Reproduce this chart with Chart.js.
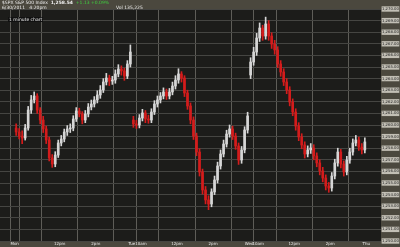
<!DOCTYPE html>
<html>
<head>
<meta charset="utf-8">
<script src="https://cdn.jsdelivr.net/npm/chart.js@4"></script>
<style>
  html, body { margin: 0; padding: 0; background: #4b483e; }
  #wrap { position: relative; width: 400px; height: 247px; }
  .hd { position: absolute; font: 4.5px "DejaVu Sans", sans-serif; color: #f0f0f0; white-space: nowrap; }
  #tag { position: absolute; left: 8px; top: 17px; font: 4.5px "DejaVu Sans", sans-serif; color: #f0f0f0; background: #111; padding: 0 1px; }
</style>
</head>
<body>
<div id="wrap">
  <canvas id="myChart" width="400" height="247"></canvas>
  <div class="hd" style="left:2px;top:0px">$SPX S&amp;P 500 Index &nbsp;<b>1,258.54</b> &nbsp;<span style="color:#3fd23f">+1.13 +0.09%</span></div>
  <div class="hd" style="left:2px;top:4.5px">6/30/2011 &nbsp; 4:20pm</div>
  <div class="hd" style="left:116px;top:4.5px">Vol 135,225</div>
  <div id="tag">1 minute chart</div>
</div>
<script>
// 10-minute candles, 39 per session (Mon, Tue, Wed)
const opens = [
  1259.74,1259.40,1259.05,1258.88,1259.74,1261.29,1262.16,1262.50,1261.29,1260.43,1259.66,1258.71,1257.16,1256.64,1257.41,1258.45,1258.79,1259.40,1259.66,1259.74,1260.52,1261.21,1260.95,1260.43,1260.95,1261.55,1261.81,1262.16,1262.59,1263.02,1263.71,1264.05,1263.79,1263.88,1264.40,1264.83,1264.66,1264.22,1265.26,
  1260.43,1260.09,1260.00,1260.60,1261.04,1260.52,1260.43,1261.12,1261.81,1262.16,1262.50,1262.85,1262.50,1262.85,1263.36,1263.88,1264.40,1264.05,1262.76,1261.64,1260.43,1259.05,1257.67,1255.95,1254.40,1253.54,1253.19,1254.23,1255.26,1256.47,1257.50,1258.36,1259.22,1259.66,1259.05,1258.19,1256.98,1257.85,1259.57,
  1264.31,1265.43,1266.29,1267.50,1268.36,1267.67,1268.71,1267.67,1266.98,1266.47,1265.26,1264.57,1263.71,1263.02,1261.98,1261.12,1259.91,1258.97,1258.28,1257.50,1257.85,1258.02,1257.33,1256.73,1256.04,1255.43,1254.74,1254.57,1255.60,1256.73,1257.67,1256.64,1255.95,1256.98,1257.67,1258.45,1258.71,1258.10,1257.85
];
const highs = [
  1260.10,1259.70,1259.50,1260.05,1261.60,1262.55,1262.85,1262.70,1261.50,1260.75,1259.90,1258.95,1257.45,1257.70,1258.70,1259.10,1259.65,1259.95,1260.10,1260.80,1261.50,1261.45,1261.15,1261.25,1261.85,1262.15,1262.45,1262.95,1263.40,1264.00,1264.45,1264.30,1264.20,1264.75,1265.20,1265.10,1264.90,1265.55,1266.90,
  1260.75,1260.40,1260.90,1261.35,1261.25,1260.85,1261.40,1262.10,1262.50,1262.80,1263.20,1263.10,1263.15,1263.70,1264.25,1264.85,1264.60,1264.25,1263.00,1261.90,1260.70,1259.30,1257.95,1256.20,1254.70,1253.90,1254.50,1255.60,1256.80,1257.85,1258.70,1259.55,1260.00,1259.90,1259.30,1258.45,1258.15,1259.85,1261.10,
  1265.80,1266.70,1267.90,1268.80,1268.60,1269.30,1269.00,1267.95,1267.30,1266.75,1265.55,1264.85,1264.00,1263.30,1262.25,1261.40,1260.20,1259.25,1258.55,1258.20,1258.40,1258.30,1257.60,1257.00,1256.35,1255.70,1255.05,1255.90,1257.05,1258.00,1257.90,1256.90,1257.30,1258.00,1258.80,1259.10,1258.95,1258.40,1258.90
];
const lows = [
  1259.10,1258.80,1258.40,1258.70,1259.55,1261.00,1261.90,1261.00,1260.10,1259.35,1258.40,1256.90,1256.35,1256.40,1257.20,1258.20,1258.55,1259.10,1259.35,1259.50,1260.30,1260.70,1260.10,1260.20,1260.70,1261.30,1261.55,1261.90,1262.30,1262.80,1263.45,1263.40,1263.50,1263.60,1264.15,1264.30,1263.85,1264.00,1265.00,
  1259.80,1259.70,1259.75,1260.35,1260.20,1260.15,1260.20,1260.90,1261.55,1261.90,1262.25,1262.20,1262.25,1262.60,1263.10,1263.60,1263.70,1262.45,1261.35,1260.10,1258.75,1257.35,1255.60,1254.05,1253.20,1252.70,1252.95,1254.00,1255.00,1256.20,1257.25,1258.10,1258.95,1258.75,1257.90,1256.60,1256.70,1257.60,1259.30,
  1264.00,1265.15,1266.00,1267.20,1267.30,1267.40,1267.30,1266.60,1266.10,1264.95,1264.20,1263.40,1262.70,1261.65,1260.80,1259.55,1258.65,1257.95,1257.15,1257.25,1257.55,1257.00,1256.40,1255.70,1255.10,1254.40,1254.20,1254.30,1255.35,1256.45,1256.30,1255.60,1255.70,1256.70,1257.40,1258.20,1257.80,1257.50,1257.60
];
const closes = [
  1259.40,1259.05,1258.88,1259.74,1261.29,1262.16,1262.50,1261.29,1260.43,1259.66,1258.71,1257.16,1256.64,1257.41,1258.45,1258.79,1259.40,1259.66,1259.74,1260.52,1261.21,1260.95,1260.43,1260.95,1261.55,1261.81,1262.16,1262.59,1263.02,1263.71,1264.05,1263.79,1263.88,1264.40,1264.83,1264.66,1264.22,1265.26,1266.29,
  1260.09,1260.00,1260.60,1261.04,1260.52,1260.43,1261.12,1261.81,1262.16,1262.50,1262.85,1262.50,1262.85,1263.36,1263.88,1264.40,1264.05,1262.76,1261.64,1260.43,1259.05,1257.67,1255.95,1254.40,1253.54,1253.19,1254.23,1255.26,1256.47,1257.50,1258.36,1259.22,1259.66,1259.05,1258.19,1256.98,1257.85,1259.57,1260.78,
  1265.43,1266.29,1267.50,1268.36,1267.67,1268.71,1267.67,1266.98,1266.47,1265.26,1264.57,1263.71,1263.02,1261.98,1261.12,1259.91,1258.97,1258.28,1257.50,1257.85,1258.02,1257.33,1256.73,1256.04,1255.43,1254.74,1254.57,1255.60,1256.73,1257.67,1256.64,1255.95,1256.98,1257.67,1258.45,1258.71,1258.10,1257.85,1258.54
];

// x axis in 5-minute slots, 78 per session
const tickSlots = [0, 6, 30, 54, 78, 84, 108, 132, 156, 162, 186, 210, 234];
const tickLabels = ['Mon', '', '12pm', '2pm', 'Tue', '10am', '12pm', '2pm', 'Wed', '10am', '12pm', '2pm', 'Thu'];

const wicks = closes.map((c, i) => ({ x: 2 * i + 1, y: [lows[i], highs[i]] }));
const bodies = closes.map((c, i) => ({ x: 2 * i + 1, y: [opens[i], c] }));
const candleColor = (ctx) => closes[ctx.dataIndex] >= opens[ctx.dataIndex] ? '#d6d6d6' : '#d41c1c';

const plotBg = {
  id: 'plotBg',
  beforeDraw(chart) {
    const a = chart.chartArea;
    chart.ctx.save();
    chart.ctx.fillStyle = '#1c1c1a';
    chart.ctx.fillRect(a.left, a.top, a.right - a.left, a.bottom - a.top);
    chart.ctx.restore();
  },
};

const ctx = document.getElementById('myChart').getContext('2d');
const myChart = new Chart(ctx, {
  type: 'bar',
  data: {
    datasets: [
      { data: wicks, backgroundColor: candleColor, barThickness: 1, grouped: false },
      { data: bodies, backgroundColor: candleColor, barThickness: 2, minBarLength: 1, grouped: false },
    ],
  },
  options: {
    responsive: false,
    animation: false,
    layout: { padding: { top: 9, left: 0, right: 0, bottom: 0 } },
    plugins: { legend: { display: false }, tooltip: { enabled: false } },
    scales: {
      x: {
        type: 'linear',
        min: 0,
        max: 234,
        afterBuildTicks: (s) => { s.ticks = tickSlots.map((v) => ({ value: v })); },
        afterFit: (s) => { s.height = 6; },
        grid: { color: '#5e5d58', drawTicks: false },
        border: { display: false },
        ticks: {
          autoSkip: false,
          maxRotation: 0,
          padding: 1,
          color: '#e8e8e8',
          font: { size: 4, family: 'DejaVu Sans' },
          callback: (v) => tickLabels[tickSlots.indexOf(v)],
        },
      },
      y: {
        position: 'right',
        min: 1250,
        max: 1270,
        afterFit: (s) => { s.width = 19; },
        grid: { color: '#454542', drawTicks: false },
        border: { display: false },
        ticks: {
          stepSize: 0.5,
          padding: 1,
          color: '#222',
          font: { size: 3.8, family: 'DejaVu Sans' },
          showLabelBackdrop: true,
          backdropColor: '#c2bfb5',
          backdropPadding: 0.4,
          callback: (v) => v.toLocaleString('en-US', { minimumFractionDigits: 2, maximumFractionDigits: 2 }),
        },
      },
    },
  },
  plugins: [plotBg],
});
</script>
</body>
</html>
